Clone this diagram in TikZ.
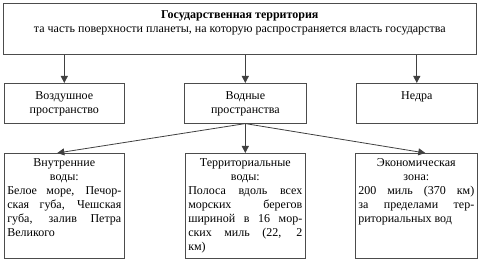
\documentclass[tikz,border=0pt]{standalone}
\usepackage{fontspec}
\setmainfont{Liberation Serif}
\usetikzlibrary{arrows.meta}
\tikzset{
  box/.style={draw=black!70, line width=0.6pt, inner sep=0pt, anchor=north west, fill=white},
  arr/.style={draw=black!75, line width=0.8pt, -{Triangle[length=7pt,width=7pt]}}
}
\newcommand{\jst}{\leftskip=0pt\rightskip=0pt\parfillskip=0pt plus 1fil\relax}
\begin{document}
\begin{tikzpicture}[x=1pt,y=-1pt]
\useasboundingbox (0,0) rectangle (480,264);
\node[box] (top) at (3,3) {\parbox[c][51pt][t]{473pt}{\centering\fontsize{12}{14}\selectfont\vspace{7pt}\textbf{Государственная территория}\\та часть поверхности планеты, на которую распространяется власть государства}};
\node[box] (m1) at (4,83) {\parbox[c][40pt][t]{120pt}{\centering\fontsize{12}{14}\selectfont\vspace{8pt}Воздушное\\пространство}};
\node[box] (m2) at (184,83) {\parbox[c][40pt][t]{122pt}{\centering\fontsize{12}{14}\selectfont\vspace{8pt}Водные\\пространства}};
\node[box] (m3) at (356,83) {\parbox[c][40pt][t]{121pt}{\centering\fontsize{12}{14}\selectfont\vspace{8pt}Недра}};
\node[box] (b1) at (4,153) {\parbox[c][105pt][t]{120pt}{\hspace*{3pt}\parbox[t]{114pt}{\fontsize{12}{14}\selectfont\vspace{5pt}\centering Внутренние\\воды:\par\jst
Белое море, Печор-\linebreak ская губа, Чешская\linebreak губа, залив Петра\linebreak Великого\par}}};
\node[box] (b2) at (185,153) {\parbox[c][105pt][t]{120pt}{\hspace*{3pt}\parbox[t]{114pt}{\fontsize{12}{14}\selectfont\vspace{5pt}\centering Территориальные\\воды:\par\jst
Полоса вдоль всех\linebreak морских берегов\linebreak шириной в 16 мор-\linebreak ских миль (22, 2\linebreak км)\par}}};
\node[box] (b3) at (355,153) {\parbox[c][105pt][t]{122pt}{\hspace*{3pt}\parbox[t]{116pt}{\fontsize{12}{14}\selectfont\vspace{5pt}\centering Экономическая\\зона:\par\jst
200 миль (370 км)\linebreak за пределами тер-\linebreak риториальных вод\par}}};
\draw[arr] (top.south -| m1.north) -- (m1.north);
\draw[arr] (top.south -| m2.north) -- (m2.north);
\draw[arr] (top.south -| m3.north) -- (m3.north);
\draw[arr] (m2.south) -- ([xshift=-7pt]b1.north);
\draw[arr] (m2.south) -- (b2.north);
\draw[arr] (m2.south) -- ([xshift=9pt]b3.north);
\end{tikzpicture}
\end{document}
